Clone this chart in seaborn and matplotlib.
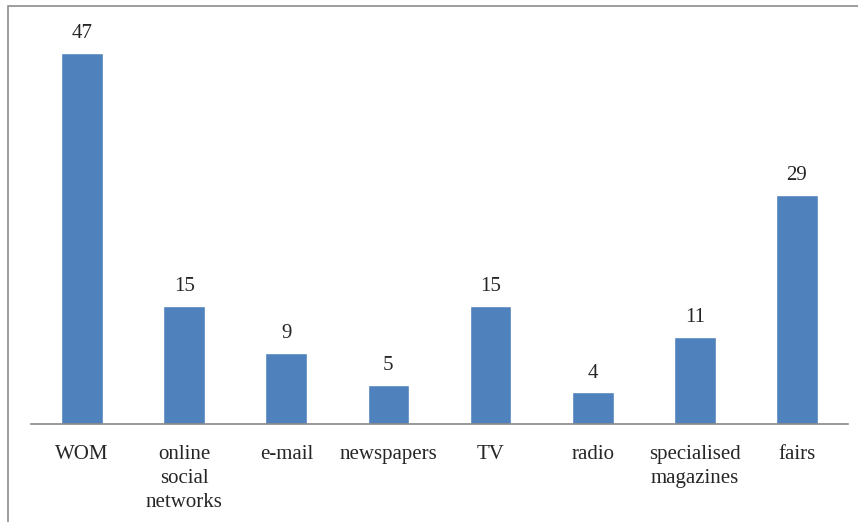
import matplotlib
matplotlib.use("Agg")
import matplotlib.pyplot as plt
import seaborn as sns
import pandas as pd
from matplotlib.patches import Rectangle

# data
channels = ["WOM", "online\nsocial\nnetworks", "e-mail", "newspapers", "TV",
            "radio", "specialised\nmagazines", "fairs"]
counts = [47, 15, 9, 5, 15, 4, 11, 29]

df = pd.DataFrame({"channel": channels, "count": counts})

sns.set_style("white")
plt.rcParams["font.family"] = ["Liberation Serif", "DejaVu Serif"]

fig = plt.figure(figsize=(8.58, 5.22), dpi=100)
ax = fig.add_axes([31 / 858, 98 / 522, 817 / 858, 395 / 522])

sns.barplot(data=df, x="channel", y="count", color="#4F81BD", saturation=1,
            width=0.41, ax=ax)

for container in ax.containers:
    ax.bar_label(container, fmt="%d", padding=7, fontsize=15)

ax.set_ylim(0, 50)
ax.set_xlim(-0.5, len(channels) - 0.5)
ax.set_xlabel("")
ax.set_ylabel("")
ax.set_yticks([])
ax.tick_params(axis="x", length=0, pad=15, labelsize=15)
for lbl in ax.get_xticklabels():
    lbl.set_linespacing(1.35)

for side in ["top", "right", "left"]:
    ax.spines[side].set_visible(False)
ax.spines["bottom"].set_color("#868686")
ax.spines["bottom"].set_linewidth(1.2)

# outer chart border (only top and left visible in the crop)
fig.patches.append(Rectangle((8 / 858, -0.1), 1.2, (522 - 6) / 522 + 0.1,
                             transform=fig.transFigure, fill=False,
                             edgecolor="#8c8c8c", linewidth=1.2))

fig.savefig("out.png", dpi=100)
